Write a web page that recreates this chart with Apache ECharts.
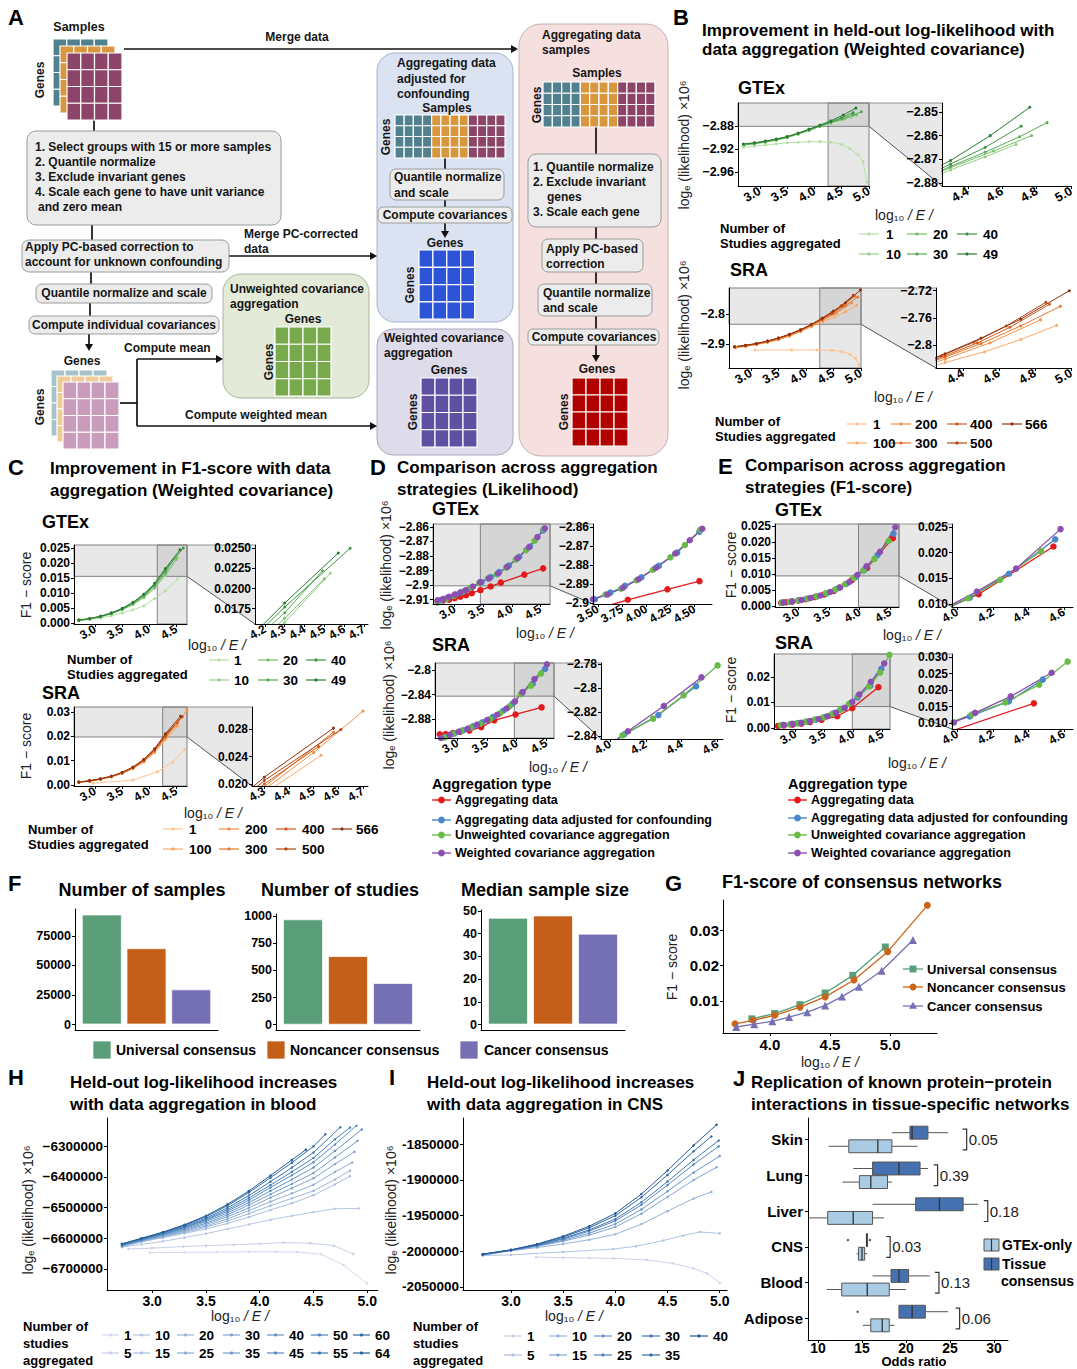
<!DOCTYPE html>
<html>
<head>
<meta charset="utf-8">
<script src="https://cdn.jsdelivr.net/npm/echarts@6/dist/echarts.min.js"></script>
<style>
html,body{margin:0;padding:0;background:#fff}
#fig{width:1077px;height:1369px}
</style>
</head>
<body>
<div id="fig"></div>
<script>
// ---------------- data ----------------
const GTEX_STUDIES = ['1', '10', '20', '30', '40', '49'];
const SRA_STUDIES = ['1', '100', '200', '300', '400', '500', '566'];
const GTEX_GREENS = ['#b6e0a5', '#97d187', '#78c06c', '#5aab55', '#3f9444', '#2b7a33'];
const SRA_ORANGES = ['#fdc48f', '#fbaa66', '#f48f44', '#e6742c', '#d05b1d', '#b54514', '#8f340f'];

// held-out log-likelihood (x10^6) vs log10|E|, weighted covariance, GTEx
const LIK_GTEX = [
  [[2.7,-2.917],[2.9,-2.915],[3.1,-2.913],[3.3,-2.911],[3.5,-2.909],[3.7,-2.908],[3.9,-2.907],[4.1,-2.907],[4.3,-2.908],[4.5,-2.912],[4.65,-2.919],[4.8,-2.93],[4.89,-2.942],[4.96,-2.978]],
  [[2.72,-2.913],[2.9,-2.911],[3.1,-2.908],[3.3,-2.9045],[3.5,-2.9],[3.7,-2.894],[3.9,-2.8875],[4.1,-2.8805],[4.3,-2.8745],[4.5,-2.869],[4.68,-2.8637]],
  [[2.72,-2.9125],[2.9,-2.9105],[3.1,-2.9075],[3.3,-2.904],[3.5,-2.8995],[3.7,-2.8935],[3.9,-2.887],[4.1,-2.88],[4.3,-2.8735],[4.55,-2.8665],[4.77,-2.86]],
  [[2.7,-2.912],[2.9,-2.91],[3.1,-2.907],[3.3,-2.9035],[3.5,-2.899],[3.7,-2.893],[3.9,-2.8865],[4.1,-2.8795],[4.3,-2.873],[4.5,-2.867],[4.7,-2.8605],[4.86,-2.8545]],
  [[2.7,-2.9115],[2.9,-2.9095],[3.1,-2.9065],[3.3,-2.903],[3.5,-2.8985],[3.7,-2.8925],[3.9,-2.886],[4.1,-2.879],[4.3,-2.872],[4.5,-2.865],[4.71,-2.856]],
  [[2.7,-2.911],[2.9,-2.909],[3.1,-2.906],[3.3,-2.9025],[3.5,-2.898],[3.7,-2.892],[3.9,-2.885],[4.1,-2.878],[4.3,-2.8705],[4.53,-2.86],[4.76,-2.848]]
];
const LIK_SRA = [
  [[3.07,-2.92],[3.74,-2.92],[4.2,-2.92],[4.47,-2.921],[4.65,-2.925],[4.8,-2.934],[4.9,-2.948],[4.96,-2.97]],
  [[2.72,-2.912],[2.9,-2.908],[3.1,-2.902],[3.3,-2.895],[3.5,-2.886],[3.7,-2.874],[3.9,-2.859],[4.1,-2.842],[4.3,-2.826],[4.52,-2.81],[4.72,-2.792],[4.92,-2.771]],
  [[2.72,-2.911],[2.9,-2.907],[3.1,-2.901],[3.3,-2.893],[3.5,-2.884],[3.7,-2.872],[3.9,-2.857],[4.1,-2.839],[4.3,-2.821],[4.55,-2.797],[4.83,-2.763]],
  [[2.7,-2.91],[2.9,-2.906],[3.1,-2.9],[3.3,-2.892],[3.5,-2.882],[3.7,-2.87],[3.9,-2.855],[4.1,-2.837],[4.3,-2.818],[4.5,-2.798],[4.72,-2.772],[4.94,-2.743]],
  [[2.7,-2.91],[2.9,-2.905],[3.1,-2.899],[3.3,-2.891],[3.5,-2.881],[3.7,-2.869],[3.9,-2.854],[4.1,-2.836],[4.3,-2.816],[4.48,-2.797],[4.66,-2.774],[4.88,-2.74]],
  [[2.7,-2.909],[2.9,-2.905],[3.1,-2.899],[3.3,-2.89],[3.5,-2.88],[3.7,-2.868],[3.9,-2.853],[4.1,-2.835],[4.28,-2.816],[4.46,-2.796],[4.64,-2.772],[4.86,-2.737]],
  [[2.7,-2.909],[2.9,-2.904],[3.1,-2.898],[3.3,-2.89],[3.5,-2.88],[3.7,-2.867],[3.9,-2.852],[4.1,-2.834],[4.3,-2.813],[4.5,-2.79],[4.72,-2.762],[4.99,-2.72]]
];

// F1-score vs log10|E|, weighted covariance
const F1_GTEX = [
  [[2.7,0.0009],[2.9,0.0013],[3.1,0.0018],[3.3,0.0025],[3.5,0.0034],[3.7,0.0045],[3.9,0.0058],[4.1,0.0082],[4.3,0.0108],[4.53,0.0148]],
  [[2.7,0.001],[2.9,0.0015],[3.1,0.0022],[3.3,0.0032],[3.5,0.0045],[3.7,0.0062],[3.9,0.0085],[4.1,0.0116],[4.3,0.0158],[4.53,0.0219]],
  [[2.7,0.001],[2.9,0.0015],[3.1,0.0022],[3.3,0.0032],[3.5,0.0046],[3.7,0.0064],[3.9,0.0088],[4.1,0.012],[4.3,0.0163],[4.5,0.0212]],
  [[2.7,0.001],[2.9,0.0015],[3.1,0.0023],[3.3,0.0033],[3.5,0.0047],[3.7,0.0066],[3.9,0.0091],[4.1,0.0125],[4.3,0.017],[4.49,0.0222]],
  [[2.7,0.0011],[2.9,0.0016],[3.1,0.0023],[3.3,0.0034],[3.5,0.0048],[3.7,0.0068],[3.9,0.0094],[4.1,0.0129],[4.3,0.0177],[4.63,0.025]],
  [[2.7,0.0011],[2.9,0.0016],[3.1,0.0024],[3.3,0.0035],[3.5,0.005],[3.7,0.007],[3.9,0.0097],[4.1,0.0133],[4.3,0.0182],[4.57,0.0244]]
];
const F1_SRA = [
  [[2.96,0.0008],[3.7,0.002],[4.15,0.0054],[4.44,0.0094],[4.66,0.0146]],
  [[2.7,0.0011],[2.9,0.0016],[3.1,0.0023],[3.3,0.0033],[3.5,0.0047],[3.7,0.0067],[3.9,0.0094],[4.1,0.0133],[4.3,0.0186],[4.53,0.0242]],
  [[2.7,0.0011],[2.9,0.0016],[3.1,0.0024],[3.3,0.0034],[3.5,0.0048],[3.7,0.0069],[3.9,0.0097],[4.1,0.0137],[4.3,0.0192],[4.5,0.0246],[4.7,0.0307]],
  [[2.7,0.0011],[2.9,0.0017],[3.1,0.0024],[3.3,0.0035],[3.5,0.0049],[3.7,0.007],[3.9,0.0099],[4.1,0.014],[4.3,0.0196],[4.58,0.0276]],
  [[2.7,0.0012],[2.9,0.0017],[3.1,0.0025],[3.3,0.0035],[3.5,0.005],[3.7,0.0071],[3.9,0.0101],[4.1,0.0143],[4.3,0.02],[4.52,0.0255]],
  [[2.7,0.0012],[2.9,0.0017],[3.1,0.0025],[3.3,0.0036],[3.5,0.0051],[3.7,0.0072],[3.9,0.0103],[4.1,0.0146],[4.3,0.0205],[4.61,0.028]],
  [[2.7,0.0012],[2.9,0.0018],[3.1,0.0026],[3.3,0.0036],[3.5,0.0052],[3.7,0.0074],[3.9,0.0105],[4.1,0.0149],[4.3,0.021],[4.58,0.0282]]
];

// aggregation strategies
const AGG_TYPES = ['Aggregating data', 'Aggregating data adjusted for confounding', 'Unweighted covariance aggregation', 'Weighted covariance aggregation'];
const AGG_COLORS = ['#e31a1c', '#4a86c8', '#69bb47', '#8b4fb1'];
const CMP_LIK_GTEX = [
  [[2.7,-2.911],[2.8,-2.9105],[2.9,-2.91],[3.0,-2.909],[3.1,-2.908],[3.2,-2.907],[3.3,-2.9055],[3.45,-2.9035],[3.63,-2.901],[3.81,-2.8983],[4.22,-2.8928],[4.55,-2.8885]],
  [[2.75,-2.9105],[2.88,-2.9085],[3.02,-2.9065],[3.17,-2.904],[3.3,-2.9015],[3.47,-2.898],[3.63,-2.8945],[3.78,-2.891],[3.95,-2.8865],[4.13,-2.8805],[4.32,-2.8735],[4.55,-2.8625]],
  [[2.7,-2.912],[2.85,-2.9095],[2.98,-2.9075],[3.12,-2.905],[3.27,-2.902],[3.43,-2.8985],[3.58,-2.8955],[3.74,-2.8925],[3.9,-2.888],[4.07,-2.8825],[4.25,-2.876],[4.4,-2.8695],[4.56,-2.8615]],
  [[2.7,-2.9105],[2.8,-2.9095],[2.9,-2.908],[3.0,-2.9065],[3.1,-2.905],[3.2,-2.9035],[3.32,-2.901],[3.45,-2.898],[3.6,-2.8955],[3.76,-2.892],[3.92,-2.8875],[4.1,-2.8815],[4.3,-2.874],[4.45,-2.867],[4.58,-2.861]]
];
const CMP_LIK_SRA = [
  [[2.7,-2.904],[2.8,-2.9035],[2.92,-2.902],[3.05,-2.9],[3.2,-2.898],[3.4,-2.8925],[3.62,-2.8815],[3.98,-2.872],[4.42,-2.8605]],
  [[2.8,-2.908],[2.95,-2.9025],[3.1,-2.8975],[3.26,-2.891],[3.42,-2.8845],[3.6,-2.876],[3.77,-2.866],[3.93,-2.8545],[4.08,-2.8385],[4.27,-2.8225],[4.48,-2.7985]],
  [[2.78,-2.909],[2.92,-2.9035],[3.06,-2.8985],[3.22,-2.893],[3.38,-2.887],[3.55,-2.8795],[3.72,-2.87],[3.88,-2.859],[4.07,-2.8395],[4.24,-2.8255],[4.41,-2.806],[4.6,-2.781]],
  [[2.72,-2.91],[2.87,-2.905],[3.02,-2.9],[3.17,-2.895],[3.33,-2.8885],[3.5,-2.881],[3.67,-2.8725],[3.83,-2.8625],[3.97,-2.851],[4.1,-2.836],[4.3,-2.815],[4.51,-2.791]]
];
const CMP_F1_GTEX = [
  [[2.72,0.001],[2.8,0.0012],[2.9,0.0014],[3.0,0.0017],[3.12,0.0021],[3.27,0.0028],[3.42,0.0036],[3.58,0.0047],[3.67,0.0058],[3.87,0.0081],[4.12,0.0119],[4.54,0.0212]],
  [[2.75,0.0011],[2.88,0.0014],[3.0,0.0018],[3.14,0.0023],[3.3,0.003],[3.46,0.0039],[3.62,0.0053],[3.78,0.0069],[3.93,0.009],[4.07,0.0112],[4.29,0.0159],[4.55,0.0226]],
  [[2.73,0.001],[2.86,0.0013],[3.0,0.0017],[3.15,0.0023],[3.3,0.003],[3.45,0.004],[3.6,0.0051],[3.76,0.0068],[3.9,0.0088],[4.06,0.0111],[4.24,0.0147],[4.47,0.0203]],
  [[2.76,0.0011],[2.9,0.0014],[3.05,0.0019],[3.2,0.0025],[3.36,0.0033],[3.52,0.0044],[3.68,0.0058],[3.83,0.0075],[3.96,0.0097],[4.11,0.0124],[4.33,0.0169],[4.58,0.0246]]
];
const CMP_F1_SRA = [
  [[2.7,0.0008],[2.8,0.001],[2.95,0.0013],[3.1,0.0017],[3.25,0.0023],[3.45,0.0032],[3.72,0.0046],[3.98,0.0078],[4.43,0.016]],
  [[2.78,0.0012],[2.92,0.0015],[3.05,0.0019],[3.2,0.0025],[3.35,0.0033],[3.5,0.0043],[3.65,0.0057],[3.8,0.0075],[3.95,0.0098],[4.07,0.012],[4.29,0.0166],[4.48,0.0232]],
  [[2.75,0.0011],[2.9,0.0014],[3.02,0.0018],[3.17,0.0024],[3.32,0.0032],[3.47,0.0041],[3.62,0.0054],[3.77,0.0071],[3.92,0.0094],[4.08,0.0126],[4.27,0.0163],[4.46,0.0217],[4.62,0.0287]],
  [[2.8,0.0012],[2.95,0.0016],[3.1,0.002],[3.25,0.0027],[3.4,0.0035],[3.55,0.0046],[3.7,0.006],[3.85,0.0079],[3.98,0.0102],[4.1,0.0131],[4.3,0.0181],[4.53,0.0253]]
];

// consensus networks
const CONSENSUS = ['Universal consensus', 'Noncancer consensus', 'Cancer consensus'];
const CONSENSUS_COLORS = ['#5a9e79', '#c45f1a', '#7570b3'];
const N_SAMPLES = [93000, 64500, 29700];
const N_STUDIES = [972, 633, 385];
const MEDIAN_SIZE = [47, 48, 40];
const G_UNIVERSAL = [[3.85,0.0049],[4.04,0.0064],[4.25,0.0089],[4.46,0.0122],[4.69,0.0172],[4.96,0.0252]];
const G_NONCANCER = [[3.71,0.0035],[3.86,0.0045],[4.04,0.0059],[4.25,0.0082],[4.46,0.0111],[4.7,0.0159],[4.98,0.0239],[5.31,0.037]];
const G_CANCER = [[3.72,0.0026],[3.87,0.0034],[4.02,0.0042],[4.16,0.0054],[4.31,0.0068],[4.46,0.0087],[4.6,0.0112],[4.74,0.014],[4.93,0.0185],[5.19,0.0272]];

// blood
const BLOOD_STUDIES = ['1', '5', '10', '15', '20', '25', '30', '35', '40', '45', '50', '55', '60', '64'];
const BLOOD_BLUES = ['#d4d8ee', '#c6cfe9', '#b8c7e4', '#aabfdf', '#9cb6da', '#8eaed5', '#80a5d0', '#729ccb', '#6493c6', '#568ac0', '#4880b9', '#3b76b0', '#2e6ba5', '#235f97'];
const BLOOD_LIK = [
  [[2.98,-6647000],[3.3,-6646000],[3.6,-6645000],[3.9,-6644000],[4.15,-6644000],[4.35,-6645000],[4.57,-6652000],[4.78,-6687000],[5.0,-6747000]],
  [[2.78,-6635000],[3.0,-6632000],[3.29,-6627000],[3.5,-6624000],[3.76,-6621000],[4.0,-6618000],[4.22,-6614000],[4.47,-6616000],[4.69,-6624000],[4.87,-6651000]],
  [[2.72,-6629000],[2.9,-6620000],[3.1,-6610000],[3.3,-6598000],[3.5,-6585000],[3.7,-6570000],[3.9,-6555000],[4.1,-6540000],[4.3,-6527000],[4.5,-6515000],[4.7,-6504000],[4.92,-6503000]],
  [[2.72,-6628000],[2.9,-6612000],[3.1,-6598000],[3.3,-6584000],[3.5,-6570000],[3.7,-6552000],[3.9,-6531000],[4.1,-6508000],[4.3,-6486000],[4.5,-6460000],[4.7,-6425000],[4.84,-6398000]],
  [[2.72,-6627000],[2.9,-6610000],[3.1,-6596000],[3.3,-6581000],[3.5,-6564000],[3.7,-6544000],[3.9,-6520000],[4.1,-6494000],[4.3,-6470000],[4.5,-6446000],[4.7,-6409000],[4.84,-6380000]],
  [[2.72,-6626000],[2.9,-6609000],[3.1,-6594000],[3.3,-6578000],[3.5,-6560000],[3.7,-6537000],[3.9,-6510000],[4.1,-6481000],[4.3,-6454000],[4.5,-6426000],[4.7,-6384000],[4.86,-6354000]],
  [[2.72,-6625000],[2.9,-6608000],[3.1,-6592000],[3.3,-6575000],[3.5,-6555000],[3.7,-6530000],[3.9,-6501000],[4.1,-6468000],[4.3,-6437000],[4.5,-6405000],[4.7,-6359000],[4.88,-6319000]],
  [[2.72,-6624000],[2.9,-6607000],[3.1,-6590000],[3.3,-6572000],[3.5,-6551000],[3.7,-6524000],[3.9,-6492000],[4.1,-6457000],[4.3,-6423000],[4.5,-6388000],[4.7,-6337000],[4.91,-6283000]],
  [[2.72,-6623000],[2.9,-6606000],[3.1,-6588000],[3.3,-6569000],[3.5,-6546000],[3.7,-6518000],[3.9,-6484000],[4.1,-6446000],[4.3,-6409000],[4.5,-6370000],[4.7,-6316000],[4.95,-6246000]],
  [[2.72,-6622000],[2.9,-6605000],[3.1,-6587000],[3.3,-6566000],[3.5,-6542000],[3.7,-6512000],[3.9,-6476000],[4.1,-6435000],[4.3,-6395000],[4.5,-6353000],[4.7,-6295000],[4.9,-6234000]],
  [[2.72,-6621000],[2.9,-6603000],[3.1,-6585000],[3.3,-6564000],[3.5,-6539000],[3.7,-6507000],[3.9,-6469000],[4.1,-6427000],[4.3,-6384000],[4.5,-6339000],[4.7,-6278000],[4.84,-6240000]],
  [[2.72,-6620000],[2.9,-6602000],[3.1,-6583000],[3.3,-6561000],[3.5,-6535000],[3.7,-6501000],[3.9,-6461000],[4.1,-6416000],[4.3,-6370000],[4.5,-6321000],[4.75,-6239000]],
  [[2.72,-6619000],[2.9,-6601000],[3.1,-6581000],[3.3,-6558000],[3.5,-6530000],[3.7,-6494000],[3.9,-6451000],[4.1,-6403000],[4.3,-6354000],[4.5,-6301000],[4.61,-6262000]],
  [[2.72,-6618000],[2.9,-6600000],[3.1,-6580000],[3.3,-6556000],[3.5,-6527000],[3.7,-6490000],[3.9,-6446000],[4.1,-6396000],[4.3,-6345000],[4.43,-6312000]]
];

// CNS
const CNS_STUDIES = ['1', '5', '10', '15', '20', '25', '30', '35', '40'];
const CNS_BLUES = ['#c9d1ec', '#b0c2e3', '#98b3da', '#80a4d2', '#6995c9', '#5585bf', '#4276b3', '#3167a6', '#235897'];
const CNS_LIK = [
  [[3.24,-2008000],[3.5,-2009000],[3.75,-2009500],[3.98,-2010000],[4.3,-2012000],[4.55,-2017000],[4.75,-2024000],[4.88,-2031000],[5.0,-2044000]],
  [[2.73,-2006000],[3.0,-2005000],[3.5,-2001000],[3.98,-1997000],[4.2,-1993000],[4.46,-1985000],[4.65,-1978000],[4.81,-1973000],[5.0,-1975000]],
  [[2.73,-2005500],[3.0,-1999300],[3.25,-1994900],[3.5,-1989800],[3.75,-1983900],[4.0,-1976300],[4.25,-1962000],[4.5,-1943900],[4.75,-1926200],[4.92,-1917000]],
  [[2.73,-2005000],[3.0,-1998900],[3.25,-1993200],[3.5,-1986000],[3.75,-1977300],[4.0,-1966100],[4.25,-1947400],[4.5,-1924100],[4.75,-1900400],[4.97,-1882500]],
  [[2.73,-2005000],[3.0,-1998700],[3.25,-1992500],[3.5,-1984500],[3.75,-1974700],[4.0,-1962000],[4.25,-1941500],[4.5,-1916100],[4.75,-1889900],[5.0,-1866800]],
  [[2.73,-2004500],[3.0,-1998500],[3.25,-1991800],[3.5,-1982900],[3.75,-1971800],[4.0,-1957500],[4.25,-1935100],[4.5,-1907400],[4.75,-1878600],[4.99,-1853300]],
  [[2.73,-2004500],[3.0,-1998400],[3.25,-1991300],[3.5,-1981900],[3.75,-1970100],[4.0,-1955000],[4.25,-1931400],[4.5,-1902500],[4.75,-1872200],[4.99,-1845200]],
  [[2.73,-2004000],[3.0,-1998100],[3.25,-1990500],[3.5,-1980200],[3.75,-1967100],[4.0,-1950200],[4.25,-1924600],[4.5,-1893200],[4.75,-1860100],[4.92,-1839500]],
  [[2.73,-2004000],[3.0,-1998000],[3.25,-1990000],[3.5,-1979000],[3.75,-1965000],[4.0,-1947000],[4.25,-1920000],[4.5,-1887000],[4.75,-1852000],[4.97,-1823000]]
];

// protein-protein interaction replication: [min, q1, median, q3, max]
const TISSUES = ['Skin', 'Lung', 'Liver', 'CNS', 'Blood', 'Adipose'];
const OR_GTEX = [[11.2,13.5,16.8,18.4,21.3],[12.8,14.7,16.0,17.9,18.4],[8.9,11.1,14.0,16.2,17.5],[14.4,14.6,15.0,15.3,15.6],[11.0,12.7,15.6,18.1,20.0],[15.1,16.0,17.3,18.1,18.7]];
const OR_TISSUE = [[18.4,20.45,20.7,22.5,24.8],[14.0,16.2,19.2,21.6,22.5],[16.2,21.1,23.8,26.5,28.2],[15.5,15.5,15.55,15.6,15.6],[16.2,18.3,19.2,20.3,22.7],[19.2,19.2,20.7,22.2,24.8]];
const OR_TISSUE_OUTLIERS = [[4, 13.4], [4, 15.9], [6, 14.5]];
const P_VALUES = ['0.05', '0.39', '0.18', '0.03', '0.13', '0.06'];
const BRACKET_X = [26.9, 23.6, 29.3, 18.2, 23.75, 26.1];
const OR_COLORS = ['#a9cbe3', '#4571b0'];

// ---------------- helpers ----------------
const FONT = '"Liberation Sans", Arial, Helvetica, sans-serif';
const grids = [], xAxes = [], yAxes = [], series = [], gfx = [];

function addGrid(l, t, w, h, xa, ya) {
  const i = grids.length;
  grids.push({ left: l, top: t, width: w, height: h, show: false });
  xa.gridIndex = i; ya.gridIndex = i;
  xAxes.push(xa); yAxes.push(ya);
  return i;
}
function axis(range, labels, o = {}) {
  const vals = o.vals || labels.map(s => parseFloat(s.replace('−', '-')));
  const fmt = v => { const i = vals.findIndex(t => Math.abs(t - v) < 1e-9); return i >= 0 ? labels[i] : ''; };
  const show = labels.length > 0;
  return {
    type: 'value', min: range[0], max: range[1], inverse: !!o.inverse, z: 5,
    axisLine: { show: true, onZero: false, lineStyle: { color: '#000', width: 1 } },
    axisTick: { show: show, customValues: vals, length: 3, lineStyle: { color: '#000', width: 1 } },
    axisLabel: { show: show, customValues: vals, formatter: fmt, rotate: o.rotate || 0, margin: o.margin == null ? 4 : o.margin,
      color: '#000', fontWeight: 'bold', fontSize: o.fs || 12, fontFamily: FONT },
    splitLine: { show: false }, splitArea: { show: false }
  };
}
function lineS(gi, data, color, o = {}) {
  return {
    type: 'line', xAxisIndex: gi, yAxisIndex: gi, data: data, z: 3, clip: true, silent: true,
    symbol: o.symbol || 'circle', symbolSize: o.ss || 3, showSymbol: true, showAllSymbol: true,
    lineStyle: { color: color, width: o.lw || 1 }, itemStyle: { color: color, borderWidth: 0 },
    emphasis: { disabled: true }
  };
}
function T(x, y, text, o = {}) {
  const st = { text: text, fill: o.color || '#000', align: o.align || 'left', verticalAlign: o.valign || 'middle',
    fontSize: o.size || 12, fontWeight: o.weight || 'bold', fontFamily: FONT, fontStyle: o.style || 'normal' };
  if (o.rich) st.rich = o.rich;
  return { type: 'text', x: x, y: y, rotation: o.rot || 0, silent: true, z: 10, style: st };
}
function R(x, y, w, h, fill, stroke, r, lw) {
  return { type: 'rect', silent: true, shape: { x: x, y: y, width: w, height: h, r: r || 0 }, style: { fill: fill, stroke: stroke || null, lineWidth: lw || 1 } };
}
function PL(pts, lw, color) {
  return { type: 'polyline', silent: true, shape: { points: pts }, style: { stroke: color || '#111', lineWidth: lw || 1.7, fill: null } };
}
function ARROW(x, y, dir) {
  const s = 7, w = 4;
  const pts = dir === 'r' ? [[x, y], [x - s, y - w], [x - s, y + w]] : [[x, y], [x - w, y - s], [x + w, y - s]];
  return { type: 'polygon', silent: true, shape: { points: pts }, style: { fill: '#111' } };
}
function MAT(x, y, cols, rows, w, h, color) {
  const out = [];
  for (let c = 0; c < cols; c++) for (let r = 0; r < rows; r++) {
    out.push({ type: 'rect', silent: true, shape: { x: x + c * w, y: y + r * h, width: w, height: h },
      style: { fill: typeof color === 'function' ? color(c) : color, stroke: '#fff', lineWidth: 1.2 } });
  }
  return out;
}
function xTitle(x, y) {
  return T(x, y, '{a|log₁₀ }{b|/ E /}', { align: 'center', rich: {
    a: { fontSize: 14, fontFamily: FONT, fill: '#222' }, b: { fontSize: 14, fontFamily: FONT, fontStyle: 'italic', fill: '#222' } } });
}
function yTitle(x, y, text) {
  return T(x, y, text, { rot: Math.PI / 2, align: 'center', weight: 'normal', size: 14, color: '#222' });
}
function keyLine(x1, x2, y, color, o = {}) {
  const out = [{ type: 'line', silent: true, shape: { x1: x1, y1: y, x2: x2, y2: y }, style: { stroke: color, lineWidth: o.lw || 1.3 } }];
  const cx = (x1 + x2) / 2, r = o.r || 1.8;
  if (o.sym === 'rect') out.push({ type: 'rect', silent: true, shape: { x: cx - r, y: y - r, width: 2 * r, height: 2 * r }, style: { fill: color } });
  else if (o.sym === 'triangle') out.push({ type: 'polygon', silent: true, shape: { points: [[cx, y - r * 1.2], [cx - r * 1.15, y + r * 0.8], [cx + r * 1.15, y + r * 0.8]] }, style: { fill: color } });
  else out.push({ type: 'circle', silent: true, shape: { cx: cx, cy: y, r: r }, style: { fill: color } });
  return out;
}

// ---------------- panel A: workflow diagram ----------------
const C_TEAL = '#51808e', C_ORANGE = '#d8963f', C_PLUM = '#8c4568';
const C_TEAL_L = '#a7c2ca', C_ORANGE_L = '#efcb98', C_PLUM_L = '#c99cbc';
const C_GREEN = '#78a94d', C_BLUE = '#2d54d6', C_VIOLET = '#6050a3', C_RED = '#b00000';
const GRAY_BOX = '#ececec', GRAY_EDGE = '#9c9c9c';
const threeColors = c => (c < 4 ? C_TEAL : c < 8 ? C_ORANGE : C_PLUM);

gfx.push(
  R(377, 53, 136, 269, '#dbe3f3', '#aab4c8', 18),
  R(377, 329, 136, 126, '#dedbea', '#aaa6bf', 16),
  R(519, 24, 149, 432, '#f5dfdf', '#c8b0b0', 22),
  R(223, 274, 146, 124, '#e3ebd8', '#a8b59b', 18),
  PL([[124, 49], [511, 49]]), ARROW(518, 49, 'r'),
  PL([[94, 120], [94, 131]]), PL([[92, 225], [92, 240]]),
  PL([[229, 256], [370, 256]]), ARROW(377, 256, 'r'),
  PL([[91, 272], [91, 284]]), PL([[90, 303], [90, 317]]),
  PL([[89, 334], [89, 344]]), ARROW(89, 351, 'd'),
  PL([[120, 403], [137, 403]]), PL([[137, 359], [137, 426]]),
  PL([[137, 359], [216, 359]]), ARROW(223, 359, 'r'),
  PL([[137, 426], [370, 426]]), ARROW(377, 426, 'r'),
  PL([[445, 158], [445, 169]]), PL([[445, 200], [445, 207]]), PL([[445, 223], [445, 231]]), ARROW(445, 238, 'd'),
  PL([[596, 127], [596, 154]]), PL([[596, 227], [596, 239]]), PL([[596, 272], [596, 284]]), PL([[596, 316], [596, 329]]),
  PL([[596, 345], [596, 355]]), ARROW(596, 362, 'd'),
  R(27, 131, 254, 94, GRAY_BOX, GRAY_EDGE, 9), R(22, 240, 207, 32, GRAY_BOX, GRAY_EDGE, 7),
  R(36, 284, 176, 19, GRAY_BOX, GRAY_EDGE, 6), R(29, 316, 190, 18, GRAY_BOX, GRAY_EDGE, 6),
  R(390, 169, 114, 31, GRAY_BOX, GRAY_EDGE, 6), R(378, 207, 134, 16, GRAY_BOX, GRAY_EDGE, 5),
  R(528, 154, 133, 73, GRAY_BOX, GRAY_EDGE, 8), R(542, 239, 101, 33, GRAY_BOX, GRAY_EDGE, 6),
  R(538, 284, 114, 32, GRAY_BOX, GRAY_EDGE, 6), R(528, 329, 131, 16, GRAY_BOX, GRAY_EDGE, 5)
);
gfx.push(
  ...MAT(53, 39, 4, 4, 13.75, 16.75, C_TEAL), ...MAT(60, 46, 4, 4, 13.75, 16.75, C_ORANGE), ...MAT(67, 53, 4, 4, 13.75, 16.75, C_PLUM),
  ...MAT(51, 370, 4, 4, 14, 16.5, C_TEAL_L), ...MAT(57, 376, 4, 4, 14, 16.5, C_ORANGE_L), ...MAT(63, 382, 4, 4, 14, 16.75, C_PLUM_L),
  ...MAT(275, 327, 4, 4, 14, 17.25, C_GREEN),
  ...MAT(395, 115, 12, 4, 9.17, 10.75, threeColors), ...MAT(419, 250, 4, 4, 13.9, 17.3, C_BLUE),
  ...MAT(421, 378, 4, 4, 14, 17.25, C_VIOLET),
  ...MAT(543, 82, 12, 4, 9.33, 11.25, threeColors), ...MAT(572, 378, 4, 4, 14, 17, C_RED)
);
const tA = (x, y, s, o = {}) => gfx.push(T(x, y, s, Object.assign({ size: 12, color: '#151515' }, o)));
const gA = (x, y) => tA(x, y, 'Genes', { rot: Math.PI / 2, align: 'center' });
tA(79, 27, 'Samples', { align: 'center', size: 12.5 }); gA(40, 80);
tA(35, 147, '1. Select groups with 15 or more samples'); tA(35, 162, '2. Quantile normalize');
tA(35, 177, '3. Exclude invariant genes'); tA(35, 192, '4. Scale each gene to have unit variance'); tA(38, 207, 'and zero mean');
tA(25, 247, 'Apply PC-based correction to'); tA(25, 262, 'account for unknown confounding');
tA(297, 37, 'Merge data', { align: 'center' });
tA(244, 234, 'Merge PC-corrected'); tA(244, 249, 'data');
tA(124, 293, 'Quantile normalize and scale', { align: 'center' });
tA(124, 325, 'Compute individual covariances', { align: 'center' });
tA(82, 361, 'Genes', { align: 'center' }); gA(40, 407);
tA(124, 348, 'Compute mean'); tA(185, 415, 'Compute weighted mean');
tA(230, 289, 'Unweighted covariance'); tA(230, 304, 'aggregation'); tA(303, 319, 'Genes', { align: 'center' }); gA(269, 362);
tA(397, 63, 'Aggregating data'); tA(397, 79, 'adjusted for'); tA(397, 94, 'confounding');
tA(447, 108, 'Samples', { align: 'center' }); gA(386, 137);
tA(394, 177, 'Quantile normalize'); tA(394, 193, 'and scale');
tA(445, 215, 'Compute covariances', { align: 'center' });
tA(445, 243, 'Genes', { align: 'center' }); gA(410, 285);
tA(384, 338, 'Weighted covariance'); tA(384, 353, 'aggregation'); tA(449, 370, 'Genes', { align: 'center' }); gA(413, 412);
tA(542, 35, 'Aggregating data'); tA(542, 50, 'samples'); tA(597, 73, 'Samples', { align: 'center' }); gA(537, 105);
tA(533, 167, '1. Quantile normalize'); tA(533, 182, '2. Exclude invariant'); tA(547, 197, 'genes'); tA(533, 212, '3. Scale each gene');
tA(546, 249, 'Apply PC-based'); tA(546, 264, 'correction');
tA(543, 293, 'Quantile normalize'); tA(543, 308, 'and scale');
tA(594, 337, 'Compute covariances', { align: 'center' });
tA(597, 369, 'Genes', { align: 'center' }); gA(564, 412);

// ---------------- panels B-E: overview + magnified panels ----------------
const ZOOMS = [];
function zoomPanel(p) {
  const mi = addGrid(p.main.l, p.main.t, p.main.w, p.main.h,
    axis(p.main.x, p.main.xt, { rotate: 30, fs: p.fs }), axis(p.main.y, p.main.yt, { fs: p.fs }));
  const zi = addGrid(p.zoom.l, p.zoom.t, p.zoom.w, p.zoom.h,
    axis(p.zoom.x, p.zoom.xt, { rotate: 30, fs: p.fs }), axis(p.zoom.y, p.zoom.yt, { fs: p.fs }));
  series.push({
    type: 'line', xAxisIndex: mi, yAxisIndex: mi, data: [], z: 1, silent: true,
    markArea: { silent: true, label: { show: false },
      itemStyle: { color: 'rgba(140,140,140,0.2)', borderColor: '#808080', borderWidth: 1 },
      data: [
        [{ coord: [p.cut[0], p.main.y[0]] }, { coord: [p.main.x[1], p.main.y[1]] }],
        [{ coord: [p.main.x[0], p.cut[1]] }, { coord: [p.main.x[1], p.main.y[1]] }]
      ] }
  });
  p.data.forEach((d, k) => {
    series.push(lineS(mi, d, p.colors[k], p.sty));
    series.push(lineS(zi, d, p.colors[k], p.sty));
  });
  ZOOMS.push({ p: p, mi: mi, zi: zi });
}
const STY_THIN = { ss: 3, lw: 1 };
const STY_DOT = { ss: 6.5, lw: 1.3 };
const X_MAIN = ['3.0', '3.5', '4.0', '4.5', '5.0'];
const X_MAIN4 = ['3.0', '3.5', '4.0', '4.5'];

zoomPanel({ fs: 12.5, data: LIK_GTEX, colors: GTEX_GREENS, sty: STY_THIN, cut: [4.25, -2.88],
  main: { l: 738, t: 103, w: 131, h: 83, x: [2.6, 5.0], y: [-2.985, -2.839], xt: X_MAIN, yt: ['−2.96', '−2.92', '−2.88'] },
  zoom: { l: 942, t: 103, w: 131, h: 83, x: [4.25, 5.0], y: [-2.8813, -2.8462], xt: ['4.4', '4.6', '4.8', '5.0'], yt: ['−2.88', '−2.87', '−2.86', '−2.85'] } });
zoomPanel({ fs: 12.5, data: LIK_SRA, colors: SRA_ORANGES, sty: STY_THIN, cut: [4.25, -2.834],
  main: { l: 729, t: 288, w: 132, h: 80, x: [2.6, 5.0], y: [-2.98, -2.713], xt: X_MAIN, yt: ['−2.9', '−2.8'] },
  zoom: { l: 936, t: 288, w: 137, h: 80, x: [4.25, 5.0], y: [-2.834, -2.716], xt: ['4.4', '4.6', '4.8', '5.0'], yt: ['−2.8', '−2.76', '−2.72'] } });
zoomPanel({ fs: 12, data: F1_GTEX, colors: GTEX_GREENS, sty: STY_THIN, cut: [4.15, 0.0156],
  main: { l: 74, t: 545, w: 113, h: 79, x: [2.61, 4.7], y: [-0.0002, 0.026], xt: X_MAIN4, yt: ['0.000', '0.005', '0.010', '0.015', '0.020', '0.025'] },
  zoom: { l: 255, t: 545, w: 113, h: 79, x: [4.15, 4.72], y: [0.0156, 0.0254], xt: ['4.2', '4.3', '4.4', '4.5', '4.6', '4.7'], yt: ['0.0175', '0.0200', '0.0225', '0.0250'] } });
zoomPanel({ fs: 12, data: F1_SRA, colors: SRA_ORANGES, sty: STY_THIN, cut: [4.25, 0.0197],
  main: { l: 74, t: 707, w: 113, h: 79, x: [2.61, 4.7], y: [-0.0004, 0.032], xt: X_MAIN4, yt: ['0.00', '0.01', '0.02', '0.03'] },
  zoom: { l: 252, t: 707, w: 116, h: 79, x: [4.25, 4.72], y: [0.0197, 0.0313], xt: ['4.3', '4.4', '4.5', '4.6', '4.7'], yt: ['0.020', '0.024', '0.028'] } });
zoomPanel({ fs: 12, data: CMP_LIK_GTEX, colors: AGG_COLORS, sty: STY_DOT, cut: [3.45, -2.9005],
  main: { l: 433, t: 524, w: 117, h: 80, x: [2.62, 4.67], y: [-2.913, -2.858], xt: X_MAIN4, yt: ['−2.91', '−2.9', '−2.89', '−2.88', '−2.87', '−2.86'] },
  zoom: { l: 593, t: 524, w: 119, h: 80, x: [3.45, 4.68], y: [-2.9005, -2.8585], xt: ['3.50', '3.75', '4.00', '4.25', '4.50'], yt: ['−2.9', '−2.89', '−2.88', '−2.87', '−2.86'] } });
zoomPanel({ fs: 12, data: CMP_LIK_SRA, colors: AGG_COLORS, sty: STY_DOT, cut: [3.96, -2.8425],
  main: { l: 435, t: 663, w: 119, h: 75, x: [2.62, 4.63], y: [-2.91, -2.789], xt: X_MAIN4, yt: ['−2.88', '−2.84', '−2.8'] },
  zoom: { l: 601, t: 663, w: 122, h: 76, x: [3.95, 4.63], y: [-2.8425, -2.779], xt: ['4.0', '4.2', '4.4', '4.6'], yt: ['−2.84', '−2.82', '−2.8', '−2.78'] } });
zoomPanel({ fs: 12, data: CMP_F1_GTEX, colors: AGG_COLORS, sty: STY_DOT, cut: [3.98, 0.0094],
  main: { l: 775, t: 524, w: 124, h: 83, x: [2.62, 4.64], y: [-0.0003, 0.0256], xt: X_MAIN4, yt: ['0.000', '0.005', '0.010', '0.015', '0.020', '0.025'] },
  zoom: { l: 952, t: 524, w: 121, h: 83, x: [3.97, 4.65], y: [0.0094, 0.0256], xt: ['4.0', '4.2', '4.4', '4.6'], yt: ['0.010', '0.015', '0.020', '0.025'] } });
zoomPanel({ fs: 12, data: CMP_F1_SRA, colors: AGG_COLORS, sty: STY_DOT, cut: [3.98, 0.0084],
  main: { l: 774, t: 654, w: 116, h: 75, x: [2.63, 4.63], y: [-0.0004, 0.029], xt: X_MAIN4, yt: ['0.00', '0.01', '0.02'] },
  zoom: { l: 952, t: 654, w: 121, h: 75, x: [3.97, 4.65], y: [0.0082, 0.031], xt: ['4.0', '4.2', '4.4', '4.6'], yt: ['0.010', '0.015', '0.020', '0.025', '0.030'] } });

// ---------------- panel F: bars ----------------
function barPanel(l, t, w, h, yr, yt, values) {
  const gi = addGrid(l, t, w, h, axis([0.4, 3.6], []), axis(yr, yt, { fs: 12.5 }));
  series.push({
    type: 'bar', xAxisIndex: gi, yAxisIndex: gi, barWidth: 40, z: 3, silent: true,
    data: values.map((v, i) => ({ value: [i + 1, v], itemStyle: { color: CONSENSUS_COLORS[i], borderColor: 'rgba(255,255,255,0.7)', borderWidth: 1 } }))
  });
}
barPanel(75, 909, 143, 121, [-4650, 97650], ['0', '25000', '50000', '75000'], N_SAMPLES);
barPanel(276, 914, 144, 116, [-48.6, 1020.6], ['0', '250', '500', '750', '1000'], N_STUDIES);
barPanel(481, 910, 144, 120, [-2.4, 50.4], ['0', '10', '20', '30', '40', '50'], MEDIAN_SIZE);

// ---------------- panel G ----------------
const gG = addGrid(723, 900, 214, 133, axis([3.61, 5.39], ['4.0', '4.5', '5.0'], { fs: 15 }), axis([0.0009, 0.0385], ['0.01', '0.02', '0.03'], { fs: 15 }));
series.push(lineS(gG, G_UNIVERSAL, CONSENSUS_COLORS[0], { symbol: 'rect', ss: 7, lw: 1.3 }));
series.push(lineS(gG, G_NONCANCER, '#cc6418', { symbol: 'circle', ss: 7, lw: 1.3 }));
series.push(lineS(gG, G_CANCER, CONSENSUS_COLORS[2], { symbol: 'triangle', ss: 8, lw: 1.3 }));

// ---------------- panels H, I ----------------
const gH = addGrid(107, 1118, 271, 172, axis([2.58, 5.1], X_MAIN, { fs: 14 }),
  axis([-6768300, -6208900], ['−6700000', '−6600000', '−6500000', '−6400000', '−6300000'], { fs: 13.5 }));
BLOOD_LIK.forEach((d, k) => series.push(lineS(gH, d, BLOOD_BLUES[k], { ss: 2.5, lw: 1 })));
const gI = addGrid(463, 1118, 264, 172, axis([2.54, 5.07], X_MAIN, { fs: 14 }),
  axis([-2054200, -1813600], ['-2050000', '-2000000', '-1950000', '-1900000', '-1850000'], { fs: 13.5 }));
CNS_LIK.forEach((d, k) => series.push(lineS(gI, d, CNS_BLUES[k], { ss: 2.5, lw: 1 })));

// ---------------- panel J: box plots ----------------
const gJ = addGrid(808, 1118, 200, 222, axis([8.86, 31.6], ['10', '15', '20', '25', '30'], { fs: 14, margin: 1 }),
  axis([0.4, 6.6], TISSUES, { vals: [1, 2, 3, 4, 5, 6], inverse: true, fs: 15, margin: 5 }));
function boxSeries(rows, offset, color) {
  return {
    type: 'custom', xAxisIndex: gJ, yAxisIndex: gJ, z: 3, silent: true,
    data: rows.map((r, i) => [i + 1].concat(r)),
    encode: { x: [1, 2, 3, 4, 5], y: 0 },
    renderItem: function (params, api) {
      const c = api.value(0) + offset;
      const p = k => api.coord([api.value(k), c]);
      const h = Math.abs(api.size([0, 0.36])[1]);
      const lo = p(1), q1 = p(2), md = p(3), q3 = p(4), hi = p(5);
      return { type: 'group', children: [
        { type: 'line', shape: { x1: lo[0], y1: lo[1], x2: q1[0], y2: q1[1] }, style: { stroke: '#555', lineWidth: 1 } },
        { type: 'line', shape: { x1: q3[0], y1: q3[1], x2: hi[0], y2: hi[1] }, style: { stroke: '#555', lineWidth: 1 } },
        { type: 'rect', shape: { x: q1[0], y: q1[1] - h / 2, width: Math.max(q3[0] - q1[0], 1), height: h }, style: { fill: color, stroke: '#555', lineWidth: 1 } },
        { type: 'line', shape: { x1: md[0], y1: md[1] - h / 2, x2: md[0], y2: md[1] + h / 2 }, style: { stroke: '#333', lineWidth: 1.3 } }
      ] };
    }
  };
}
series.push(boxSeries(OR_GTEX, 0.19, OR_COLORS[0]));
series.push(boxSeries(OR_TISSUE, -0.19, OR_COLORS[1]));
series.push({
  type: 'scatter', xAxisIndex: gJ, yAxisIndex: gJ, symbolSize: 2.5, z: 4, silent: true,
  itemStyle: { color: '#333' }, data: OR_TISSUE_OUTLIERS.map(o => [o[1], o[0] - 0.19])
});
series.push({
  type: 'custom', xAxisIndex: gJ, yAxisIndex: gJ, z: 4, silent: true,
  data: BRACKET_X.map((x, i) => [i + 1, x]), encode: { x: 1, y: 0 },
  renderItem: function (params, api) {
    const c = api.value(0), bx = api.value(1);
    const top = api.coord([bx, c - 0.29]), bot = api.coord([bx, c + 0.29]);
    return { type: 'group', children: [
      { type: 'polyline', shape: { points: [[top[0] - 4, top[1]], [top[0], top[1]], [bot[0], bot[1]], [bot[0] - 4, bot[1]]] }, style: { stroke: '#333', lineWidth: 1.2, fill: null } },
      { type: 'text', x: top[0] + 2, y: (top[1] + bot[1]) / 2, style: { text: P_VALUES[params.dataIndex], fill: '#222', fontSize: 15, fontFamily: FONT, align: 'left', verticalAlign: 'middle' } }
    ] };
  }
});

// ---------------- titles, axis titles, legends ----------------
const letter = (x, y, s) => gfx.push(T(x, y, s, { size: 22 }));
letter(8, 17, 'A'); letter(673, 17, 'B'); letter(8, 467, 'C'); letter(370, 467, 'D'); letter(718, 466, 'E');
letter(8, 883, 'F'); letter(665, 883, 'G'); letter(8, 1077, 'H'); letter(389, 1077, 'I'); letter(733, 1078, 'J');
const title = (x, y, s, o = {}) => gfx.push(T(x, y, s, Object.assign({ size: 17 }, o)));
title(702, 30, 'Improvement in held-out log-likelihood with'); title(702, 49, 'data aggregation (Weighted covariance)');
title(50, 468, 'Improvement in F1-score with data'); title(50, 490, 'aggregation (Weighted covariance)');
title(397, 467, 'Comparison across aggregation'); title(397, 489, 'strategies (Likelihood)');
title(745, 465, 'Comparison across aggregation'); title(745, 487, 'strategies (F1-score)');
title(142, 890, 'Number of samples', { align: 'center', size: 18 });
title(340, 890, 'Number of studies', { align: 'center', size: 18 });
title(545, 890, 'Median sample size', { align: 'center', size: 18 });
title(722, 882, 'F1-score of consensus networks', { size: 18 });
title(70, 1082, 'Held-out log-likelihood increases'); title(70, 1104, 'with data aggregation in blood');
title(427, 1082, 'Held-out log-likelihood increases'); title(427, 1104, 'with data aggregation in CNS');
title(751, 1082, 'Replication of known protein−protein'); title(751, 1104, 'interactions in tissue-specific networks');
const sub = (x, y, s) => gfx.push(T(x, y, s, { size: 18 }));
sub(738, 88, 'GTEx'); sub(730, 270, 'SRA'); sub(42, 522, 'GTEx'); sub(42, 693, 'SRA');
sub(432, 509, 'GTEx'); sub(432, 645, 'SRA'); sub(775, 510, 'GTEx'); sub(775, 643, 'SRA');

const LIK_LABEL = 'logₑ (likelihood) ×10⁶';
gfx.push(yTitle(684, 145, LIK_LABEL), yTitle(684, 325, LIK_LABEL), yTitle(386, 565, LIK_LABEL), yTitle(389, 705, LIK_LABEL),
  yTitle(26, 585, 'F1 − score'), yTitle(26, 746, 'F1 − score'), yTitle(731, 565, 'F1 − score'), yTitle(731, 690, 'F1 − score'),
  yTitle(672, 967, 'F1 − score'), yTitle(28, 1210, LIK_LABEL), yTitle(391, 1210, LIK_LABEL));
gfx.push(xTitle(904, 215), xTitle(903, 397), xTitle(217, 645), xTitle(213, 813), xTitle(545, 633), xTitle(558, 767),
  xTitle(912, 635), xTitle(917, 763), xTitle(830, 1062), xTitle(240, 1316), xTitle(574, 1316));
gfx.push(T(914, 1361, 'Odds ratio', { align: 'center', size: 13 }));

// legends with a grid of swatches
function studyLegend(titleLines, tx, ty, labels, colors, colX, textX, rowY, o = {}) {
  titleLines.forEach((s, i) => gfx.push(T(tx, ty + i * (o.lh || 15), s, { size: o.ts || 13 })));
  labels.forEach((lab, k) => {
    const c = Math.floor(k / 2), r = k % 2;
    gfx.push(...keyLine(colX[c], colX[c] + (o.sw || 20), rowY[r], colors[k], { r: 1.6, lw: 1.2 }));
    gfx.push(T(textX[c], rowY[r], lab, { size: o.fs || 13.5 }));
  });
}
studyLegend(['Number of', 'Studies aggregated'], 720, 228, GTEX_STUDIES, GTEX_GREENS, [859, 907, 957], [886, 933, 983], [234, 254]);
studyLegend(['Number of', 'Studies aggregated'], 715, 421, SRA_STUDIES, SRA_ORANGES, [847, 891, 947, 1002], [873, 915, 970, 1025], [424, 443]);
studyLegend(['Number of', 'Studies aggregated'], 67, 659, GTEX_STUDIES, GTEX_GREENS, [209, 258, 306], [234, 283, 331], [660, 680]);
studyLegend(['Number of', 'Studies aggregated'], 28, 829, SRA_STUDIES, SRA_ORANGES, [163, 219, 276, 332], [189, 245, 302, 356], [829, 849]);
studyLegend(['Number of', 'studies', 'aggregated'], 23, 1326, BLOOD_STUDIES, BLOOD_BLUES,
  [102, 133, 177, 223, 267, 311, 353], [124, 155, 199, 245, 289, 333, 375], [1335, 1353], { sw: 17, lh: 17 });
studyLegend(['Number of', 'studies', 'aggregated'], 413, 1326, CNS_STUDIES, CNS_BLUES,
  [504, 549, 594, 642, 690], [527, 572, 617, 665, 713], [1336, 1355], { sw: 18, lh: 17 });

function aggLegend(x, y, rows) {
  gfx.push(T(x, y, 'Aggregation type', { size: 14.5 }));
  AGG_TYPES.forEach((s, k) => {
    gfx.push(...keyLine(x, x + 19, rows[k], AGG_COLORS[k], { r: 3.4, lw: 1.4 }));
    gfx.push(T(x + 23, rows[k], s, { size: 12.5 }));
  });
}
aggLegend(432, 784, [800, 820, 835, 853]);
aggLegend(788, 784, [800, 818, 835, 853]);

// F legend
[[93, 116], [267, 290], [460, 484]].forEach((p, k) => {
  gfx.push(R(p[0], 1041, 18, 18, CONSENSUS_COLORS[k], 'rgba(255,255,255,0.7)', 0, 1));
  gfx.push(T(p[1], 1050, CONSENSUS[k], { size: 14 }));
});
// G legend
const G_SYMS = ['rect', 'circle', 'triangle'];
const G_COLORS = [CONSENSUS_COLORS[0], '#cc6418', CONSENSUS_COLORS[2]];
[969, 987, 1006].forEach((y, k) => {
  gfx.push(...keyLine(903, 923, y, G_COLORS[k], { sym: G_SYMS[k], r: 3.5, lw: 1.3 }));
  gfx.push(T(927, y, CONSENSUS[k], { size: 13 }));
});
// J legend
[[1239, 'GTEx-only'], [1258, 'Tissue']].forEach((p, k) => {
  gfx.push(R(984, p[0], 15, 12, OR_COLORS[k], '#555', 0, 1));
  gfx.push({ type: 'line', silent: true, shape: { x1: 991.5, y1: p[0], x2: 991.5, y2: p[0] + 12 }, style: { stroke: '#333', lineWidth: 1.2 } });
  gfx.push(T(1002, p[0] + 6, p[1], { size: 14 }));
});
gfx.push(T(1001, 1281, 'consensus', { size: 14 }));

// ---------------- render ----------------
const option = {
  animation: false,
  backgroundColor: '#ffffff',
  textStyle: { fontFamily: FONT },
  grid: grids, xAxis: xAxes, yAxis: yAxes, series: series,
  graphic: { elements: gfx }
};
const chart = echarts.init(document.getElementById('fig'), null, { renderer: 'svg', width: 1077, height: 1369 });
chart.setOption(option);

// connector bands between each overview and its magnified panel
const bands = [];
ZOOMS.forEach(({ p, mi, zi }) => {
  const a = chart.convertToPixel({ gridIndex: mi }, [p.main.x[1], p.main.y[1]]);
  const b = chart.convertToPixel({ gridIndex: mi }, [p.main.x[1], p.cut[1]]);
  const c = chart.convertToPixel({ gridIndex: zi }, [p.zoom.x[0], p.zoom.y[1]]);
  const d = chart.convertToPixel({ gridIndex: zi }, [p.zoom.x[0], p.zoom.y[0]]);
  bands.push({ type: 'polygon', silent: true, z: -1, shape: { points: [a, c, d, b] }, style: { fill: 'rgba(140,140,140,0.2)' } });
  bands.push({ type: 'line', silent: true, z: -1, shape: { x1: a[0], y1: a[1], x2: c[0], y2: c[1] }, style: { stroke: '#909090', lineWidth: 1 } });
  bands.push({ type: 'line', silent: true, z: -1, shape: { x1: b[0], y1: b[1], x2: d[0], y2: d[1] }, style: { stroke: '#555', lineWidth: 1 } });
});
option.graphic = { elements: bands.concat(gfx) };
chart.setOption(option, true);
</script>
</body>
</html>
